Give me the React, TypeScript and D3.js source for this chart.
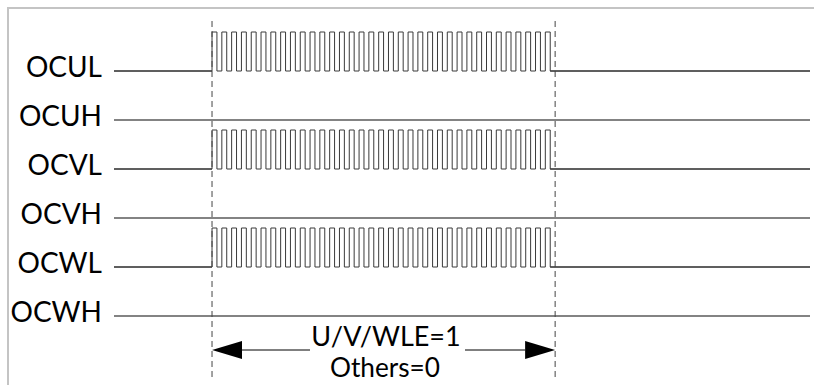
import React from "react";
import * as d3 from "d3";

const signals = ["OCUL", "OCUH", "OCVL", "OCVH", "OCWL", "OCWH"];
const pwmActive = [true, false, true, false, true, false];
const timeDomain = [0, 71];
const enableStart = 10;
const enableEnd = 45;
const pulseCount = 35;
const dutyCycle = 0.5;
const arrowLabel = "U/V/WLE=1";
const arrowLabel2 = "Others=0";

const W = 814;
const H = 385;
const FONT = "Lato, 'Noto Sans', sans-serif";

export default function App() {
  const x = d3.scaleLinear().domain(timeDomain).range([114, 810]);
  const y = d3.scalePoint<string>().domain(signals).range([71, 316]);
  const amp = 39;
  const period = (enableEnd - enableStart) / pulseCount;

  const pwmPath = (base: number) => {
    const pts: [number, number][] = [];
    pts.push([x(timeDomain[0]), base]);
    for (let i = 0; i < pulseCount; i++) {
      const t0 = enableStart + i * period;
      const t1 = t0 + period * dutyCycle;
      pts.push([x(t0), base]);
      pts.push([x(t0), base - amp]);
      pts.push([x(t1), base - amp]);
      pts.push([x(t1), base]);
    }
    pts.push([x(timeDomain[1]), base]);
    return d3.line()(pts) as string;
  };

  const ay = 350;
  const ax0 = x(enableStart);
  const ax1 = x(enableEnd);
  const head = 30;
  const hh = 9;

  return (
    <svg
      width={W}
      height={H}
      style={{ position: "absolute", left: 0, top: 0, background: "#fff" }}
    >
      <line x1={7} x2={W} y1={8} y2={8} stroke="#c4c4c4" strokeWidth={2} />
      <line x1={8} x2={8} y1={7} y2={H} stroke="#c4c4c4" strokeWidth={2} />

      {signals.map((s, i) => {
        const yy = y(s) as number;
        return (
          <g key={s}>
            <text
              x={102}
              y={yy + 6}
              textAnchor="end"
              fontFamily={FONT}
              fontSize={28}
              fill="#000"
            >
              {s}
            </text>
            {pwmActive[i] ? (
              <>
                <line x1={x(timeDomain[0])} x2={x(enableStart)} y1={yy} y2={yy} stroke="#5a5a5a" strokeWidth={1.6} />
                <line x1={x(enableEnd) - 5} x2={x(timeDomain[1])} y1={yy} y2={yy} stroke="#5a5a5a" strokeWidth={1.6} />
                <path d={pwmPath(yy)} fill="none" stroke="#3a3a3a" strokeWidth={1} />
              </>
            ) : (
              <line x1={x(timeDomain[0])} x2={x(timeDomain[1])} y1={yy} y2={yy} stroke="#5a5a5a" strokeWidth={1.6} />
            )}
          </g>
        );
      })}

      {[enableStart, enableEnd].map((t) => (
        <line
          key={t}
          x1={x(t)}
          x2={x(t)}
          y1={21}
          y2={380}
          stroke="#444"
          strokeWidth={1}
          strokeDasharray="6,4"
        />
      ))}

      <line x1={ax0 + head} x2={310} y1={ay} y2={ay} stroke="#000" strokeWidth={1} />
      <line x1={465} x2={ax1 - head} y1={ay} y2={ay} stroke="#000" strokeWidth={1} />
      <path d={`M${ax0},${ay}L${ax0 + head},${ay - hh}L${ax0 + head},${ay + hh}Z`} fill="#000" />
      <path d={`M${ax1},${ay}L${ax1 - head},${ay - hh}L${ax1 - head},${ay + hh}Z`} fill="#000" />
      <text x={386} y={346} textAnchor="middle" fontFamily={FONT} fontSize={27} fill="#000">
        {arrowLabel}
      </text>
      <text
        x={385}
        y={377}
        textAnchor="middle"
        fontFamily={FONT}
        fontSize={27}
        fill="#000"
        textLength={110}
        lengthAdjust="spacingAndGlyphs"
      >
        {arrowLabel2}
      </text>
    </svg>
  );
}
